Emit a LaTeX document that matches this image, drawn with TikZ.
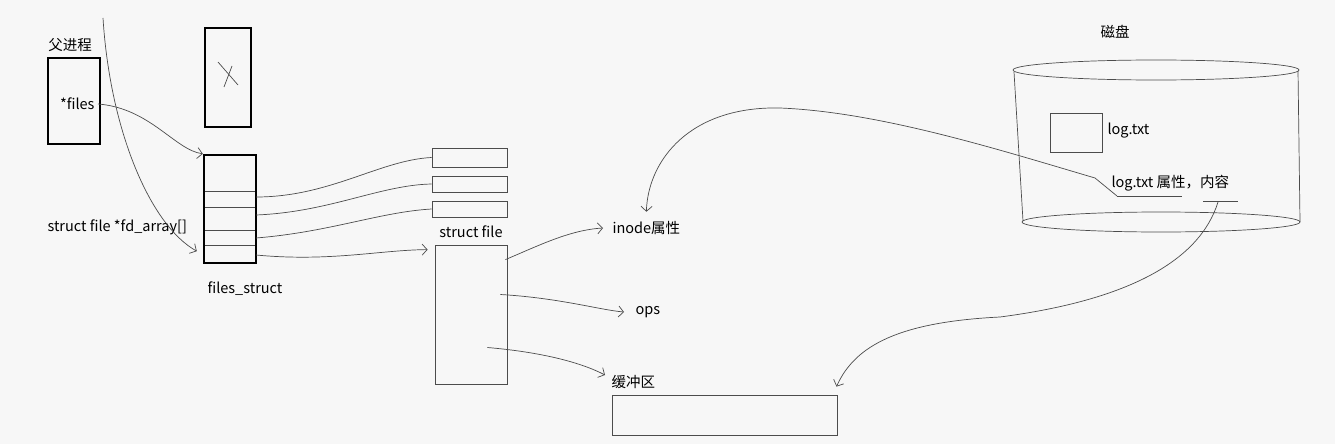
\documentclass[tikz,border=0pt]{standalone}
\usepackage{fontspec}
\setmainfont{Noto Sans CJK SC}
\usetikzlibrary{arrows.meta}
\begin{document}
\begin{tikzpicture}[x=1pt,y=-1pt,>={Straight Barb[length=5pt,width=11pt]},
  every node/.style={font=\fontsize{14.5}{16}\selectfont,text=black},
  heavy/.style={draw=black,line width=2.4pt,inner sep=0pt},
  box/.style={draw=black!70,line width=0.8pt,inner sep=0pt},
  lk/.style={draw=black!70,line width=0.7pt}]
  \fill[black!3] (0,0) rectangle (1335,444);
  \useasboundingbox (0,0) rectangle (1335,444);
  \node (p) at (70,45) {父进程};
  \node[heavy,minimum width=52,minimum height=86] (pb) at (74,101) {};
  \node[anchor=east] (f) at (98,104) {*files};
  \node[heavy,minimum width=46,minimum height=99] (t) at (228,77.5) {};
  \draw[lk] (218,62) -- (238,85) (232,66) -- (224,87);
  \node[heavy,minimum width=52,minimum height=108] (fs) at (230,209) {};
  \foreach \y in {191,207,230,245} \draw[lk] (205,\y) -- (255,\y);
  \coordinate (r1) at (256,197);
  \coordinate (r2) at (256,215);
  \coordinate (r3) at (256,238);
  \coordinate (r4) at (256,255);
  \coordinate (u) at (103,18);
  \node[anchor=west] (fa) at (44,227) {struct file *fd\_array[]};
  \node (fl) at (245,289) {files\_struct};
  \node[box,minimum width=75,minimum height=19] (a1) at (469.5,157.5) {};
  \node[box,minimum width=75,minimum height=16] (a2) at (469.5,184) {};
  \node[box,minimum width=75,minimum height=16] (a3) at (469.5,209) {};
  \node (sl) at (471,232) {struct file};
  \node[box,minimum width=72,minimum height=139] (sf) at (471,314.5) {};
  \node[anchor=west] (in) at (609,228) {inode属性};
  \node[anchor=west] (op) at (632,312) {ops};
  \node[anchor=west] (bl) at (608,382) {缓冲区};
  \node[box,minimum width=225,minimum height=40] (bf) at (724.5,415) {};
  \node (dk) at (1115,32) {磁盘};
  \draw[lk] (1156,70) ellipse [x radius=143,y radius=10];
  \draw[lk] (1161,222) ellipse [x radius=139,y radius=10];
  \draw[lk] (1014,72) -- (1023,221) (1298,71) -- (1300,222);
  \node[box,minimum width=52,minimum height=39] (lb) at (1076,132.5) {};
  \node[anchor=west] (lt) at (1104,131) {log.txt};
  \node[anchor=west] (la) at (1108,183) {log.txt 属性，内容};
  \draw[lk] (1117,196) -- (1182,196) (1203,201) -- (1238,201);
  \coordinate (u1) at (1117,196);
  \coordinate (u2) at (1218,202);
  \draw[lk,->] (f.east) .. controls (150,108) and (175,150) .. (fs.north west);
  \draw[lk,->] (u) .. controls (110,130) and (150,225) .. ([shift={(-6,-13)}]fs.south west);
  \draw[lk] (r1) .. controls (330,197) and (380,160) .. (a1.west);
  \draw[lk] (r2) .. controls (330,212) and (380,185) .. (a2.west);
  \draw[lk] (r3) .. controls (330,232) and (380,212) .. (a3.west);
  \draw[lk,->] (r4) .. controls (330,262) and (380,250) .. ([shift={(-7,5)}]sf.north west);
  \draw[lk,->] ([shift={(-2,15)}]sf.north east) .. controls (540,245) and (570,230) .. ([xshift=-6pt]in.west);
  \draw[lk,->] ([shift={(-7,-20)}]sf.east) .. controls (560,298) and (600,310) .. ([xshift=-8pt]op.west);
  \draw[lk,->] ([shift={(-20,33)}]sf.east) .. controls (540,352) and (580,362) .. ([shift={(-3,-7)}]bl.west);
  \draw[lk,->] (u1) -- (1095,178) .. controls (1000,150) and (880,112) .. (780,108)
    .. controls (690,106) and (648,160) .. ([yshift=6pt]in.north);
  \draw[lk,->] (u2) .. controls (1200,260) and (1130,300) .. (1000,317)
    .. controls (900,322) and (855,345) .. ([shift={(112,-8)}]bf.north);
\end{tikzpicture}
\end{document}
